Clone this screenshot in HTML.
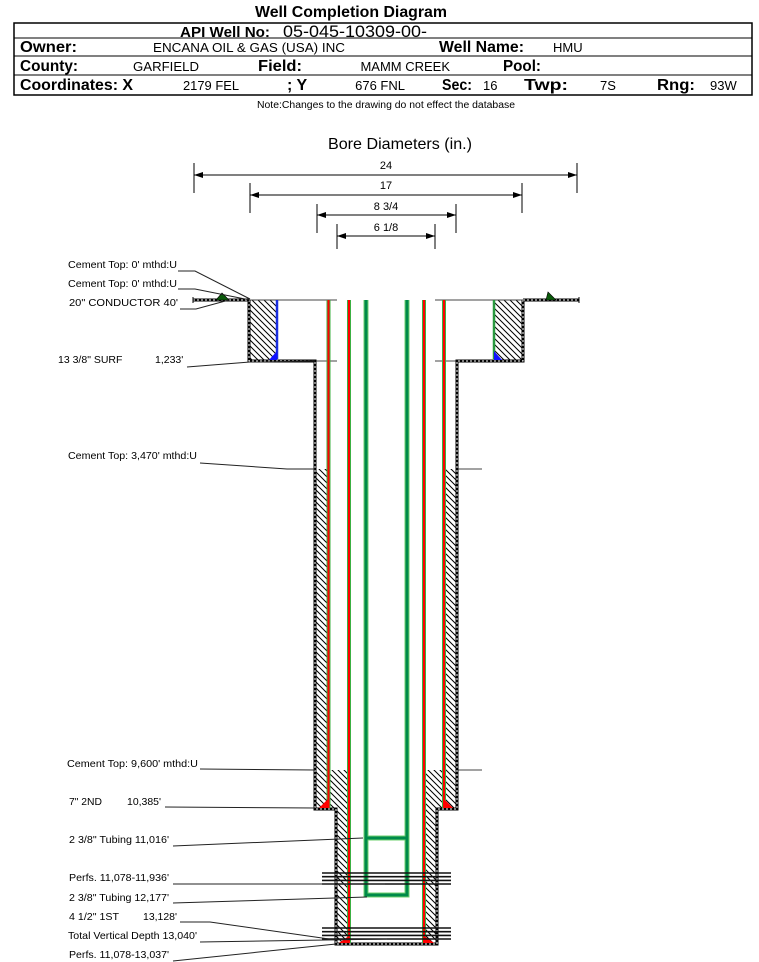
<!DOCTYPE html>
<html><head><meta charset="utf-8"><style>
html,body{margin:0;padding:0;background:#fff;}
svg{display:block;font-family:"Liberation Sans",Arial,sans-serif;}
</style></head><body>
<svg width="759" height="962" viewBox="0 0 759 962" xmlns="http://www.w3.org/2000/svg">
<defs>
<pattern id="h" patternUnits="userSpaceOnUse" width="6" height="6">
<path d="M-1,5 L1,7 M0,0 L6,6 M5,-1 L7,1" stroke="#000" stroke-width="1"/>
</pattern>
</defs>
<rect width="759" height="962" fill="#fff"/>

<!-- Header -->
<text x="255" y="17" font-size="16" font-weight="bold" textLength="192" lengthAdjust="spacingAndGlyphs">Well Completion Diagram</text>
<rect x="14" y="23" width="738" height="72" fill="none" stroke="#000" stroke-width="1.5"/>
<line x1="14" y1="38" x2="752" y2="38" stroke="#000" stroke-width="1"/>
<line x1="14" y1="56" x2="752" y2="56" stroke="#000" stroke-width="1"/>
<line x1="14" y1="75" x2="752" y2="75" stroke="#000" stroke-width="1"/>

<text x="180" y="37" font-size="15" font-weight="bold" textLength="90" lengthAdjust="spacingAndGlyphs">API Well No:</text>
<text x="283" y="37" font-size="17" textLength="144" lengthAdjust="spacingAndGlyphs">05-045-10309-00-</text>

<text x="20" y="52" font-size="16" font-weight="bold" textLength="57" lengthAdjust="spacingAndGlyphs">Owner:</text>
<text x="153" y="52" font-size="13" textLength="192" lengthAdjust="spacingAndGlyphs">ENCANA OIL &amp; GAS (USA) INC</text>
<text x="439" y="52" font-size="16" font-weight="bold" textLength="85" lengthAdjust="spacingAndGlyphs">Well Name:</text>
<text x="553" y="52" font-size="13">HMU</text>

<text x="20" y="71" font-size="16" font-weight="bold" textLength="58" lengthAdjust="spacingAndGlyphs">County:</text>
<text x="133" y="71" font-size="13" textLength="66" lengthAdjust="spacingAndGlyphs">GARFIELD</text>
<text x="258" y="71" font-size="16" font-weight="bold" textLength="44" lengthAdjust="spacingAndGlyphs">Field:</text>
<text x="450" y="71" font-size="13" text-anchor="end">MAMM CREEK</text>
<text x="503" y="71" font-size="16" font-weight="bold" textLength="38" lengthAdjust="spacingAndGlyphs">Pool:</text>

<text x="20" y="90" font-size="16" font-weight="bold" textLength="113" lengthAdjust="spacingAndGlyphs">Coordinates: X</text>
<text x="183" y="90" font-size="13" textLength="56" lengthAdjust="spacingAndGlyphs">2179 FEL</text>
<text x="287" y="90" font-size="16" font-weight="bold">; Y</text>
<text x="405" y="90" font-size="13" text-anchor="end">676 FNL</text>
<text x="442" y="90" font-size="16" font-weight="bold" textLength="30" lengthAdjust="spacingAndGlyphs">Sec:</text>
<text x="483" y="90" font-size="13">16</text>
<text x="524" y="90" font-size="16" font-weight="bold" textLength="44" lengthAdjust="spacingAndGlyphs">Twp:</text>
<text x="600" y="90" font-size="13">7S</text>
<text x="657" y="90" font-size="16" font-weight="bold" textLength="38" lengthAdjust="spacingAndGlyphs">Rng:</text>
<text x="710" y="90" font-size="13">93W</text>

<text x="257" y="108" font-size="10" textLength="258" lengthAdjust="spacingAndGlyphs">Note:Changes to the drawing do not effect the database</text>

<!-- Bore diameters -->
<text x="328" y="149" font-size="16" textLength="144" lengthAdjust="spacingAndGlyphs">Bore Diameters (in.)</text>
<g stroke="#000" stroke-width="1" fill="none">
<line x1="194" y1="163" x2="194" y2="193"/><line x1="577" y1="163" x2="577" y2="193"/><line x1="194" y1="175" x2="577" y2="175"/>
<line x1="250" y1="183" x2="250" y2="213"/><line x1="522" y1="183" x2="522" y2="213"/><line x1="250" y1="195" x2="522" y2="195"/>
<line x1="317" y1="204" x2="317" y2="233"/><line x1="456" y1="204" x2="456" y2="233"/><line x1="317" y1="215" x2="456" y2="215"/>
<line x1="337" y1="224" x2="337" y2="249"/><line x1="435" y1="224" x2="435" y2="249"/><line x1="337" y1="236" x2="435" y2="236"/>
</g>
<g fill="#000">
<polygon points="194,175 203,172 203,178"/><polygon points="577,175 568,172 568,178"/>
<polygon points="250,195 259,192 259,198"/><polygon points="522,195 513,192 513,198"/>
<polygon points="317,215 326,212 326,218"/><polygon points="456,215 447,212 447,218"/>
<polygon points="337,236 346,233 346,239"/><polygon points="435,236 426,233 426,239"/>
</g>
<g font-size="11" text-anchor="middle">
<text x="386" y="169">24</text>
<text x="386" y="189">17</text>
<text x="386" y="210">8 3/4</text>
<text x="386" y="231">6 1/8</text>
</g>

<!-- Hatch -->
<g fill="url(#h)">
<rect x="250.5" y="300" width="26" height="60.5"/>
<rect x="495" y="300" width="27" height="60.5"/>
<rect x="316.5" y="469" width="11" height="339"/>
<rect x="445.5" y="469" width="10" height="339"/>
<rect x="330" y="770" width="17.5" height="39"/>
<rect x="337.5" y="809" width="10" height="134"/>
<rect x="426" y="770" width="17" height="39"/>
<rect x="426" y="809" width="9.5" height="134"/>
</g>

<!-- thin lines -->
<g stroke="#444" stroke-width="1">
<line x1="249" y1="300" x2="337" y2="300"/>
<line x1="435" y1="300" x2="523" y2="300"/>
<line x1="315" y1="361" x2="337" y2="361"/>
<line x1="435" y1="361" x2="457" y2="361"/>
<line x1="457" y1="469" x2="482" y2="469"/>
<line x1="457" y1="770" x2="482" y2="770"/>
</g>

<!-- walls -->
<g fill="none" stroke-linejoin="miter">
<path d="M249,300 V361 H315 V809 H336 V944 H437 V809 H457 V361 H523 V300" stroke="#000" stroke-width="3"/>
<path d="M249,300 V361 H315 V809 H336 V944 H437 V809 H457 V361 H523 V300" stroke="#fff" stroke-width="1" stroke-dasharray="2 2"/>
<path d="M193,300 H249 M523,300 H579" stroke="#000" stroke-width="3"/>
<path d="M193,300 H249 M523,300 H579" stroke="#fff" stroke-width="1" stroke-dasharray="2 2"/>
<line x1="579" y1="297" x2="579" y2="303" stroke="#000" stroke-width="1"/>
<line x1="193" y1="297" x2="193" y2="303" stroke="#000" stroke-width="1"/>
</g>
<!-- ground markers -->
<polygon points="216,300 222,293 229,300" fill="#0a5a0a" stroke="#000" stroke-width="0.6"/>
<polygon points="546,300 548,292 556,300" fill="#0a5a0a" stroke="#000" stroke-width="0.6"/>

<!-- surface casing -->
<line x1="277" y1="300" x2="277" y2="359" stroke="#1a2ee0" stroke-width="2.5"/>
<line x1="494" y1="300" x2="494" y2="359" stroke="#2a9a40" stroke-width="2.5"/>
<polygon points="269,360 277,360 277,351" fill="#1010ff"/>
<polygon points="494,351 494,360 502,360" fill="#1010ff"/>

<!-- 7" casing -->
<g>
<line x1="328.5" y1="300" x2="328.5" y2="808" stroke="#3cb043" stroke-width="4"/>
<line x1="328.5" y1="300" x2="328.5" y2="808" stroke="#ff0000" stroke-width="2"/>
<line x1="444" y1="300" x2="444" y2="808" stroke="#3cb043" stroke-width="4"/>
<line x1="444" y1="300" x2="444" y2="808" stroke="#ff0000" stroke-width="2"/>
<polygon points="319,808 329,808 329,798" fill="#ff0000"/>
<polygon points="443,798 443,808 453,808" fill="#ff0000"/>
</g>
<!-- 4 1/2" casing -->
<g>
<line x1="349" y1="300" x2="349" y2="943" stroke="#3cb043" stroke-width="4"/>
<line x1="349" y1="300" x2="349" y2="943" stroke="#ff0000" stroke-width="2"/>
<line x1="424" y1="300" x2="424" y2="943" stroke="#3cb043" stroke-width="4"/>
<line x1="424" y1="300" x2="424" y2="943" stroke="#ff0000" stroke-width="2"/>
<polygon points="339,943 350,943 350,935" fill="#ff0000"/>
<polygon points="423,935 423,943 434,943" fill="#ff0000"/>
</g>
<!-- tubing -->
<g fill="none">
<path d="M366,300 V895 H407 V300 M366,838 H407" stroke="#6fd06f" stroke-width="5"/>
<path d="M366,300 V895 H407 V300 M366,838 H407" stroke="#008a4a" stroke-width="3"/>
</g>

<!-- perfs -->
<g stroke="#111" stroke-width="1.6">
<line x1="322" y1="873" x2="451" y2="873"/>
<line x1="322" y1="876.7" x2="451" y2="876.7"/>
<line x1="322" y1="880.4" x2="451" y2="880.4"/>
<line x1="322" y1="884" x2="451" y2="884"/>
<line x1="322" y1="928" x2="451" y2="928"/>
<line x1="322" y1="931.7" x2="451" y2="931.7"/>
<line x1="322" y1="935.4" x2="451" y2="935.4"/>
<line x1="322" y1="939" x2="451" y2="939"/>
</g>

<!-- leader lines -->
<g stroke="#222" stroke-width="1" fill="none">
<polyline points="178,271 195,271 250,299"/>
<polyline points="178,289 195,289 250,300"/>
<polyline points="180,309 196,309 229,300"/>
<polyline points="187,367 250,362 315,361"/>
<polyline points="200,463 287,469 315,469"/>
<polyline points="200,769 315,770"/>
<polyline points="165,807 315,808"/>
<polyline points="173,846 363,838"/>
<polyline points="173,884 385,884"/>
<polyline points="173,903 367,897"/>
<polyline points="180,922 210,922 336,940"/>
<polyline points="200,942 387,939"/>
<polyline points="173,961 336,944"/>
</g>

<!-- labels -->
<g font-size="10.5" fill="#000">
<text x="68" y="268" textLength="109" lengthAdjust="spacingAndGlyphs">Cement Top: 0' mthd:U</text>
<text x="68" y="287" textLength="109" lengthAdjust="spacingAndGlyphs">Cement Top: 0' mthd:U</text>
<text x="69" y="306" textLength="109" lengthAdjust="spacingAndGlyphs">20" CONDUCTOR  40'</text>
<text x="58" y="363">13 3/8" SURF</text>
<text x="155" y="363">1,233'</text>
<text x="68" y="459" textLength="129" lengthAdjust="spacingAndGlyphs">Cement Top: 3,470' mthd:U</text>
<text x="67" y="767" textLength="131" lengthAdjust="spacingAndGlyphs">Cement Top: 9,600' mthd:U</text>
<text x="69" y="805" textLength="33" lengthAdjust="spacingAndGlyphs">7" 2ND</text>
<text x="127" y="805" textLength="34" lengthAdjust="spacingAndGlyphs">10,385'</text>
<text x="69" y="843" textLength="100" lengthAdjust="spacingAndGlyphs">2 3/8" Tubing 11,016'</text>
<text x="69" y="881" textLength="100" lengthAdjust="spacingAndGlyphs">Perfs. 11,078-11,936'</text>
<text x="69" y="901" textLength="100" lengthAdjust="spacingAndGlyphs">2 3/8" Tubing 12,177'</text>
<text x="69" y="920" textLength="50" lengthAdjust="spacingAndGlyphs">4 1/2" 1ST</text>
<text x="143" y="920" textLength="34" lengthAdjust="spacingAndGlyphs">13,128'</text>
<text x="68" y="939" textLength="129" lengthAdjust="spacingAndGlyphs">Total Vertical Depth 13,040'</text>
<text x="69" y="958" textLength="100" lengthAdjust="spacingAndGlyphs">Perfs. 11,078-13,037'</text>
</g>
</svg>
</body></html>
